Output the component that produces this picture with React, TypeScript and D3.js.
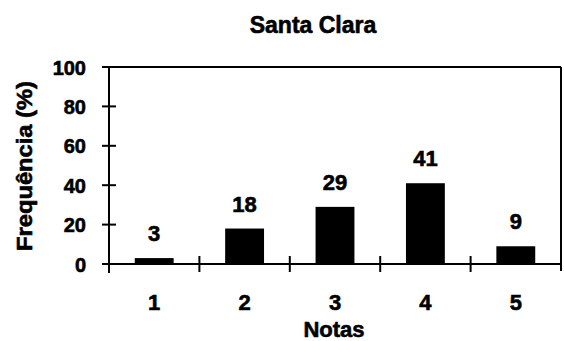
import React from "react";
import * as d3 from "d3";

// Distribution of grades (Notas) for Santa Clara, in percent
const categories: string[] = ["1", "2", "3", "4", "5"];
const values: number[] = [3, 18, 29, 41, 9];
const yTicks: number[] = [0, 20, 40, 60, 80, 100];

const W = 564;
const H = 341;
const FONT = "'Liberation Sans', Arial, Helvetica, sans-serif";

export default function App() {
  const left = 109;
  const right = 561;
  const top = 67;
  const bottom = 264;

  const x = d3
    .scaleBand<string>()
    .domain(categories)
    .range([left, right])
    .paddingInner(0.57)
    .paddingOuter(0.285);
  const y = d3.scaleLinear().domain([0, 100]).range([bottom, top]);

  const step = x.step();
  const sepXs = categories.map((_, i) => left + step * (i + 1));

  // heavy bold lettering
  const textStyle = { stroke: "#000", strokeWidth: 0.6 };

  return (
    <svg
      width={W}
      height={H}
      style={{ position: "absolute", left: 0, top: 0, background: "#fff" }}
      fontFamily={FONT}
      fontWeight="bold"
    >
      {/* title */}
      <text x={313} y={33} textAnchor="middle" fontSize={23} fill="#000" {...textStyle}>
        Santa Clara
      </text>

      {/* bars */}
      {values.map((v, i) => (
        <rect
          key={categories[i]}
          x={x(categories[i])}
          y={y(v)}
          width={x.bandwidth()}
          height={y(0) - y(v)}
          fill="#000"
        />
      ))}

      {/* value labels */}
      {values.map((v, i) => (
        <text
          key={"l" + categories[i]}
          x={(x(categories[i]) as number) + x.bandwidth() / 2}
          y={y(v) - 17}
          textAnchor="middle"
          fontSize={22}
          fill="#000"
          {...textStyle}
        >
          {v}
        </text>
      ))}

      {/* frame: top, left axis, right edge, baseline */}
      <line x1={left - 7} x2={right} y1={top} y2={top} stroke="#000" strokeWidth={2} />
      <line x1={left} x2={left} y1={top} y2={bottom + 9} stroke="#000" strokeWidth={2} />
      <line x1={right} x2={right} y1={top} y2={bottom + 7} stroke="#000" strokeWidth={2} />
      <line x1={left} x2={right} y1={bottom} y2={bottom} stroke="#000" strokeWidth={2} />

      {/* y ticks and labels */}
      {yTicks.map((t) => (
        <g key={"y" + t}>
          <line x1={left - 7} x2={left + 7} y1={y(t)} y2={y(t)} stroke="#000" strokeWidth={2} />
          <text x={86} y={y(t) + 7.5} textAnchor="end" fontSize={20} fill="#000" {...textStyle}>
            {t}
          </text>
        </g>
      ))}

      {/* category separator ticks */}
      {sepXs.slice(0, -1).map((sx, i) => (
        <line key={"s" + i} x1={sx} x2={sx} y1={bottom - 8} y2={bottom + 8} stroke="#000" strokeWidth={2} />
      ))}

      {/* category labels */}
      {categories.map((c) => (
        <text
          key={"c" + c}
          x={(x(c) as number) + x.bandwidth() / 2}
          y={310}
          textAnchor="middle"
          fontSize={22}
          fill="#000"
          {...textStyle}
        >
          {c}
        </text>
      ))}

      {/* axis titles */}
      <text x={334} y={337} textAnchor="middle" fontSize={22} fill="#000" {...textStyle}>
        Notas
      </text>
      <text
        transform="translate(32,166) rotate(-90)"
        textAnchor="middle"
        fontSize={22}
        fill="#000"
        textLength={170}
        lengthAdjust="spacingAndGlyphs"
        {...textStyle}
      >
        Frequência (%)
      </text>
    </svg>
  );
}
